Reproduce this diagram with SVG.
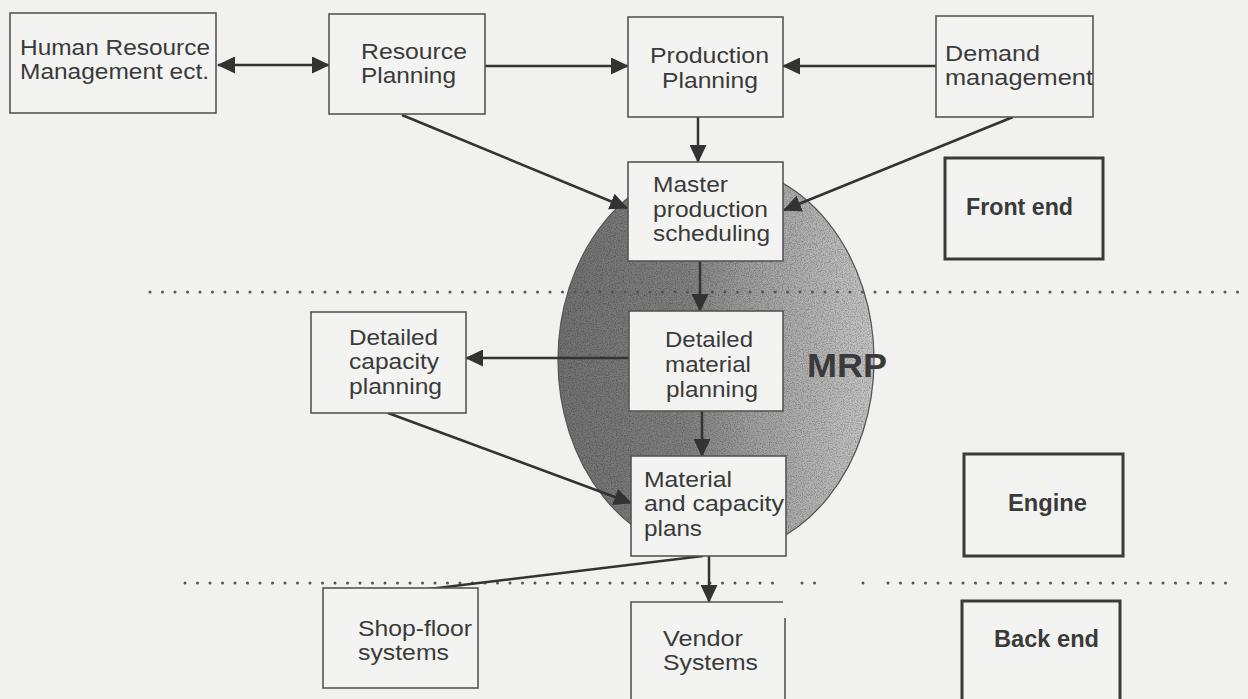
<svg xmlns="http://www.w3.org/2000/svg" width="1248" height="699" viewBox="0 0 1248 699">
<defs>
<style>
.bg{fill:#f1f1ef}
.box{fill:#f3f3f1;stroke:#555;stroke-width:1.6}
.lbl{fill:#f3f3f1;stroke:#3a3a3a;stroke-width:3}
.t{font-family:"Liberation Sans",Arial,sans-serif;font-size:22px;fill:#3a3a3a}
.b{font-family:"Liberation Sans",Arial,sans-serif;font-size:24px;font-weight:bold;fill:#3a3a3a}
.c{stroke:#333;stroke-width:2.5;fill:none}
.dots{stroke:#555;stroke-width:3;stroke-linecap:round;stroke-dasharray:0 12.5;fill:none}
</style>
<marker id="ah" markerUnits="userSpaceOnUse" viewBox="0 0 18 17" markerWidth="18" markerHeight="17" refX="17" refY="8.5" orient="auto-start-reverse">
<path d="M0,0 L18,8.5 L0,17 z" fill="#333"/>
</marker>
<linearGradient id="eg" x1="0" y1="0" x2="1" y2="0">
<stop offset="0" stop-color="#727272"/>
<stop offset="0.4" stop-color="#808080"/>
<stop offset="0.62" stop-color="#a0a0a0"/>
<stop offset="1" stop-color="#c6c6c6"/>
</linearGradient>
<filter id="grain" x="0" y="0" width="100%" height="100%">
<feTurbulence type="fractalNoise" baseFrequency="0.85" numOctaves="2" seed="5" result="noise"/>
<feColorMatrix in="noise" type="matrix" values="0 0 0 0 0  0 0 0 0 0  0 0 0 0 0  1.6 0 0 0 -0.65" result="dark"/>
<feComposite in="dark" in2="SourceGraphic" operator="in"/>
</filter>
</defs>
<rect class="bg" x="0" y="0" width="1248" height="699"/>

<g id="mrp">
<ellipse cx="716" cy="360" rx="158" ry="195" fill="url(#eg)" stroke="#555" stroke-width="1.3"/>
<ellipse cx="716" cy="360" rx="157" ry="194" fill="#000" filter="url(#grain)" opacity="0.4"/>
<text class="b" x="807" y="377" style="font-size:34px" textLength="80" lengthAdjust="spacingAndGlyphs">MRP</text>
</g>

<g id="dividers">
<line class="dots" x1="150" y1="292" x2="1248" y2="292"/>
<line class="dots" x1="185" y1="583" x2="776" y2="583"/>
<line class="dots" x1="802" y1="583" x2="827" y2="583"/>
<line class="dots" x1="863" y1="583" x2="863" y2="583"/>
<line class="dots" x1="888" y1="583" x2="1238" y2="583"/>
</g>

<g id="connectors">
<line class="c" x1="218" y1="65" x2="329" y2="65" marker-start="url(#ah)" marker-end="url(#ah)"/>
<line class="c" x1="485" y1="66" x2="628" y2="66" marker-end="url(#ah)"/>
<line class="c" x1="936" y1="66" x2="783" y2="66" marker-end="url(#ah)"/>
<line class="c" x1="698" y1="117" x2="698" y2="162" marker-end="url(#ah)"/>
<line class="c" x1="402" y1="115" x2="627" y2="208" marker-end="url(#ah)"/>
<line class="c" x1="1013" y1="117" x2="784" y2="210" marker-end="url(#ah)"/>
<line class="c" x1="700" y1="261" x2="700" y2="311" marker-end="url(#ah)"/>
<line class="c" x1="629" y1="358" x2="466" y2="358" marker-end="url(#ah)"/>
<line class="c" x1="702" y1="411" x2="702" y2="456" marker-end="url(#ah)"/>
<line class="c" x1="388" y1="413" x2="631" y2="503" marker-end="url(#ah)"/>
<line class="c" x1="703" y1="556" x2="404" y2="592"/>
<line class="c" x1="709" y1="556" x2="709" y2="602" marker-end="url(#ah)"/>
</g>

<g id="hr">
<rect class="box" x="10" y="13" width="206" height="100"/>
<text class="t" x="20" y="55" textLength="190" lengthAdjust="spacingAndGlyphs">Human Resource</text>
<text class="t" x="20" y="79" textLength="189" lengthAdjust="spacingAndGlyphs">Management ect.</text>
</g>
<g id="resource-planning">
<rect class="box" x="329" y="14" width="156" height="100"/>
<text class="t" x="361" y="59" textLength="106" lengthAdjust="spacingAndGlyphs">Resource</text>
<text class="t" x="361" y="83" textLength="95" lengthAdjust="spacingAndGlyphs">Planning</text>
</g>
<g id="production-planning">
<rect class="box" x="628" y="17" width="155" height="100"/>
<text class="t" x="650" y="63" textLength="119" lengthAdjust="spacingAndGlyphs">Production</text>
<text class="t" x="662" y="88" textLength="96" lengthAdjust="spacingAndGlyphs">Planning</text>
</g>
<g id="demand-management">
<rect class="box" x="936" y="16" width="157" height="101"/>
<text class="t" x="945" y="61" textLength="95" lengthAdjust="spacingAndGlyphs">Demand</text>
<text class="t" x="945" y="85" textLength="148" lengthAdjust="spacingAndGlyphs">management</text>
</g>
<g id="mps">
<rect class="box" x="628" y="162" width="155" height="99"/>
<text class="t" x="653" y="192" textLength="75" lengthAdjust="spacingAndGlyphs">Master</text>
<text class="t" x="653" y="217" textLength="115" lengthAdjust="spacingAndGlyphs">production</text>
<text class="t" x="653" y="241" textLength="117" lengthAdjust="spacingAndGlyphs">scheduling</text>
</g>
<g id="dmp">
<rect class="box" x="629" y="311" width="154" height="100"/>
<text class="t" x="665" y="347" textLength="88" lengthAdjust="spacingAndGlyphs">Detailed</text>
<text class="t" x="665" y="372" textLength="86" lengthAdjust="spacingAndGlyphs">material</text>
<text class="t" x="666" y="397" textLength="92" lengthAdjust="spacingAndGlyphs">planning</text>
</g>
<g id="dcp">
<rect class="box" x="311" y="312" width="155" height="101"/>
<text class="t" x="349" y="345" textLength="89" lengthAdjust="spacingAndGlyphs">Detailed</text>
<text class="t" x="349" y="369" textLength="90" lengthAdjust="spacingAndGlyphs">capacity</text>
<text class="t" x="349" y="394" textLength="93" lengthAdjust="spacingAndGlyphs">planning</text>
</g>
<g id="mcp">
<rect class="box" x="631" y="456" width="155" height="100"/>
<text class="t" x="644" y="487" textLength="88" lengthAdjust="spacingAndGlyphs">Material</text>
<text class="t" x="644" y="511" textLength="140" lengthAdjust="spacingAndGlyphs">and capacity</text>
<text class="t" x="644" y="536" textLength="58" lengthAdjust="spacingAndGlyphs">plans</text>
</g>
<g id="shop-floor">
<rect class="box" x="323" y="588" width="155" height="100"/>
<text class="t" x="358" y="636" textLength="114" lengthAdjust="spacingAndGlyphs">Shop-floor</text>
<text class="t" x="358" y="660" textLength="91" lengthAdjust="spacingAndGlyphs">systems</text>
</g>
<g id="vendor">
<rect x="631" y="602" width="154" height="100" fill="#f3f3f1"/>
<path d="M631,702 V602 H783 M785,618 V702" fill="none" stroke="#555" stroke-width="1.6"/>
<text class="t" x="663" y="646" textLength="80" lengthAdjust="spacingAndGlyphs">Vendor</text>
<text class="t" x="663" y="670" textLength="95" lengthAdjust="spacingAndGlyphs">Systems</text>
</g>
<g id="front-end">
<rect class="lbl" x="945" y="158" width="158" height="101"/>
<text class="b" x="966" y="215" textLength="107" lengthAdjust="spacingAndGlyphs">Front end</text>
</g>
<g id="engine">
<rect class="lbl" x="964" y="454" width="159" height="102"/>
<text class="b" x="1008" y="511" textLength="79" lengthAdjust="spacingAndGlyphs">Engine</text>
</g>
<g id="back-end">
<rect class="lbl" x="962" y="601" width="158" height="110"/>
<text class="b" x="994" y="647" textLength="105" lengthAdjust="spacingAndGlyphs">Back end</text>
</g>
</svg>
